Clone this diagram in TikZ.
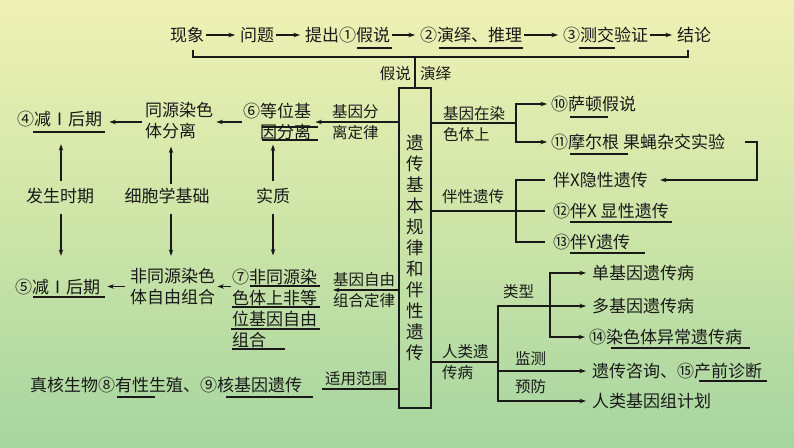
\documentclass[tikz,border=0pt]{standalone}
\usepackage{fontspec}
\setmainfont{Noto Sans CJK SC}
\usetikzlibrary{arrows.meta}
\definecolor{bgtop}{RGB}{239,241,180}
\definecolor{bgmid}{RGB}{206,229,168}
\definecolor{bgbot}{RGB}{166,213,160}
\definecolor{ink}{RGB}{25,25,25}
\tikzset{
  txt/.style={inner sep=0pt, font=\fontsize{17}{21}\selectfont, text=ink, anchor=west, align=left},
  lbl/.style={inner sep=0pt, font=\fontsize{15.5}{21}\selectfont, text=ink, anchor=west, align=left},
  ln/.style={line width=1.1pt, draw=ink},
  arr/.style={ln, -{Stealth[length=6.5pt,width=4.5pt]}},
  tarr/.style={arr, shorten <=2pt, shorten >=5pt},
  ul/.style={line width=1.1pt, draw=ink},
}
\begin{document}
\begin{tikzpicture}[x=1pt,y=-1pt]
\shade[top color=bgtop, bottom color=bgbot, middle color=bgmid] (0,0) rectangle (794,447);
\useasboundingbox (0,0) rectangle (794,447);

% ---------- top row ----------
\node[txt] (t1) at (170,35) {现象};
\node[txt] (t2) at (240,35) {问题};
\node[txt] (t3) at (305,35) {提出①假说};
\node[txt] (t4) at (420,35) {②演绎、推理};
\node[txt] (t5) at (563,35) {③测交验证};
\node[txt] (t6) at (677,35) {结论};
\foreach \a/\b in {t1/t2,t2/t3,t3/t4,t4/t5,t5/t6} \draw[tarr] (\a.east) -- (\b.west);
\draw[ul] (357,48) -- (392,48);
\draw[ul] (439,48) -- (523,48);
\draw[ul] (579,48) -- (615,48);

% ---------- central box ----------
\node[ln, draw, minimum width=32pt, minimum height=320pt, inner sep=0pt,
      font=\fontsize{17.5}{21}\selectfont, text=ink, align=center] (box) at (415,248)
      {遗\\传\\基\\本\\规\\律\\和\\伴\\性\\遗\\传};

\coordinate (bl) at (193,50);
\coordinate (br) at (688,50);
\coordinate (bm) at (415,57);
\draw[ln] (bl) |- (br |- bm) -- (br);
\draw[ln] (bm) -- (box.north);
\node[lbl, anchor=east] (jiashuo) at (411,74) {假说};
\node[lbl] (yanyi) at (420,74) {演绎};

% ---------- left upper ----------
\node[lbl] (lab1) at (332,122) {基因分\\离定律};
\node[txt, align=right] (n6) at (243,122) {⑥等位基\\因分离};
\node[txt] (ntyr) at (145,121) {同源染色\\体分离};
\node[txt] (n4) at (17,119) {④减Ⅰ后期};
\draw[arr, shorten >=4pt] (box.west |- lab1.west) -- (n6.east |- lab1.west);
\draw[arr, shorten <=1pt, shorten >=3pt] (n6.west |- lab1.west) -- (ntyr.east |- lab1.west);
\draw[arr, shorten <=3pt, shorten >=7pt] (ntyr.west |- lab1.west) -- (n4.east |- lab1.west);
\draw[ul] (262,127) -- (318,127);
\draw[ul] (262,140) -- (318,140);
\draw[ul] (33,132) -- (105,132);

% ---------- middle labels and vertical arrows ----------
\coordinate (c1) at (61,0);
\coordinate (c2) at (171,0);
\coordinate (c3) at (273,0);
\node[txt, anchor=center] (fs) at (60,196) {发生时期};
\node[txt, anchor=center] (xb) at (167,196) {细胞学基础};
\node[txt, anchor=center] (sz) at (273,196) {实质};

% ---------- left lower ----------
\node[txt] (n5) at (15,287) {⑤减Ⅰ后期};
\node[txt] (nfy) at (130,286.5) {非同源染色\\体自由组合};
\node[txt] (n7) at (232,308) {⑦非同源染\\色体上非等\\位基因自由\\组合};
\node[lbl] (lab2) at (333,290) {基因自由\\组合定律};
\draw[arr] (box.west |- lab2.west) -- (lab2.west);
\draw[arr, shorten <=1pt, shorten >=2pt] (n7.west |- nfy.east) -- (nfy.east);
\draw[arr, shorten <=5pt, shorten >=7pt] (nfy.west) -- (n5.east |- nfy.west);
\draw[ul] (250,286) -- (320,286);
\draw[ul] (232,307) -- (320,307);
\draw[ul] (231,329) -- (320,329);
\draw[ul] (232,349) -- (285,349);
\draw[ul] (33,297) -- (105,297);

\draw[arr, shorten <=7pt, shorten >=17pt] (fs.north -| c1) -- (c1 |- n4.south);
\draw[arr, shorten <=4pt, shorten >=7pt] (xb.north -| c2) -- (c2 |- ntyr.south);
\draw[arr, shorten <=7pt, shorten >=4pt] (sz.north -| c3) -- (c3 |- n6.south);
\draw[arr, shorten <=10pt, shorten >=23pt] (fs.south -| c1) -- (c1 |- n5.north);
\draw[arr, shorten <=10pt, shorten >=12pt] (xb.south -| c2) -- (c2 |- nfy.north);
\draw[arr, shorten <=10pt, shorten >=13pt] (sz.south -| c3) -- (c3 |- n7.north);

% ---------- bottom ----------
\node[txt] (nz) at (30,385) {真核生物⑧有性生殖、⑨核基因遗传};
\draw[ul] (117,397) -- (155,397);
\draw[ul] (226,397) -- (313,397);
\node[lbl, anchor=south west] (lab3) at (325,386) {适用范围};
\draw[ln] (box.west |- 0,389) -- (322,389);

% ---------- right upper ----------
\node[lbl] (lab4) at (443,124) {基因在染\\色体上};
\coordinate (b1) at (516,123);
\node[txt] (n10) at (551,104) {⑩萨顿假说};
\node[txt] (n11) at (551,142) {⑪摩尔根 果蝇杂交实验};
\draw[ln] (box.east |- b1) -- (b1);
\draw[arr, shorten >=4pt] (b1) |- (n10.west);
\draw[arr, shorten >=4pt] (b1) |- (n11.west);
\draw[ul] (570,117) -- (608,117);
\draw[ul] (570,154) -- (628,154);

\node[txt] (nx) at (553,180) {伴X隐性遗传};
\coordinate (r1) at (745,142);
\coordinate (r2) at (757,142);
\draw[arr, shorten >=12pt] (r1) -- (r2) |- (nx.east);

\node[lbl] (lab5) at (442,197) {伴性遗传};
\coordinate (b2) at (516,211);
\node[txt] (n12) at (553,211) {⑫伴X 显性遗传};
\node[txt] (n13) at (553,242) {⑬伴Y遗传};
\draw[ln] (box.east |- b2) -- (n12.west -| 545,0);
\draw[ln] (nx.west -| 545,0) -| (b2 |- n13.west) -- (n13.west -| 545,0);
\draw[ul] (570,222) -- (672,222);
\draw[ul] (570,253) -- (645,253);

% ---------- right lower ----------
\node[lbl] (lab6) at (442,362) {人类遗\\传病};
\coordinate (b3) at (498,362);
\coordinate (b4) at (550,306);
\node[txt] (ndan) at (592,273) {单基因遗传病};
\node[txt] (nd) at (592,306) {多基因遗传病};
\node[txt] (n14) at (589,337) {⑭染色体异常遗传病};
\node[txt] (nzx) at (592,371) {遗传咨询、⑮产前诊断};
\node[txt] (nrj) at (592,401) {人类基因组计划};
\draw[ln] (box.east |- b3) -- (b3);
\draw[arr, shorten >=6pt] (b3) |- (nd.west);
\draw[arr, shorten >=6pt] (b3) |- (nrj.west);
\draw[arr, shorten >=6pt] (b3 |- nzx.west) -- (nzx.west);
\draw[arr, shorten >=6pt] (b4) |- (ndan.west);
\draw[arr, shorten >=4pt] (b4) |- (n14.west);
\node[lbl] (lx) at (503,292) {类型};
\node[lbl] (jc) at (515,359) {监测};
\node[lbl] (yf) at (515,387) {预防};
\draw[ul] (611,348) -- (750,348);
\draw[ul] (699,381) -- (767,381);
\end{tikzpicture}
\end{document}
